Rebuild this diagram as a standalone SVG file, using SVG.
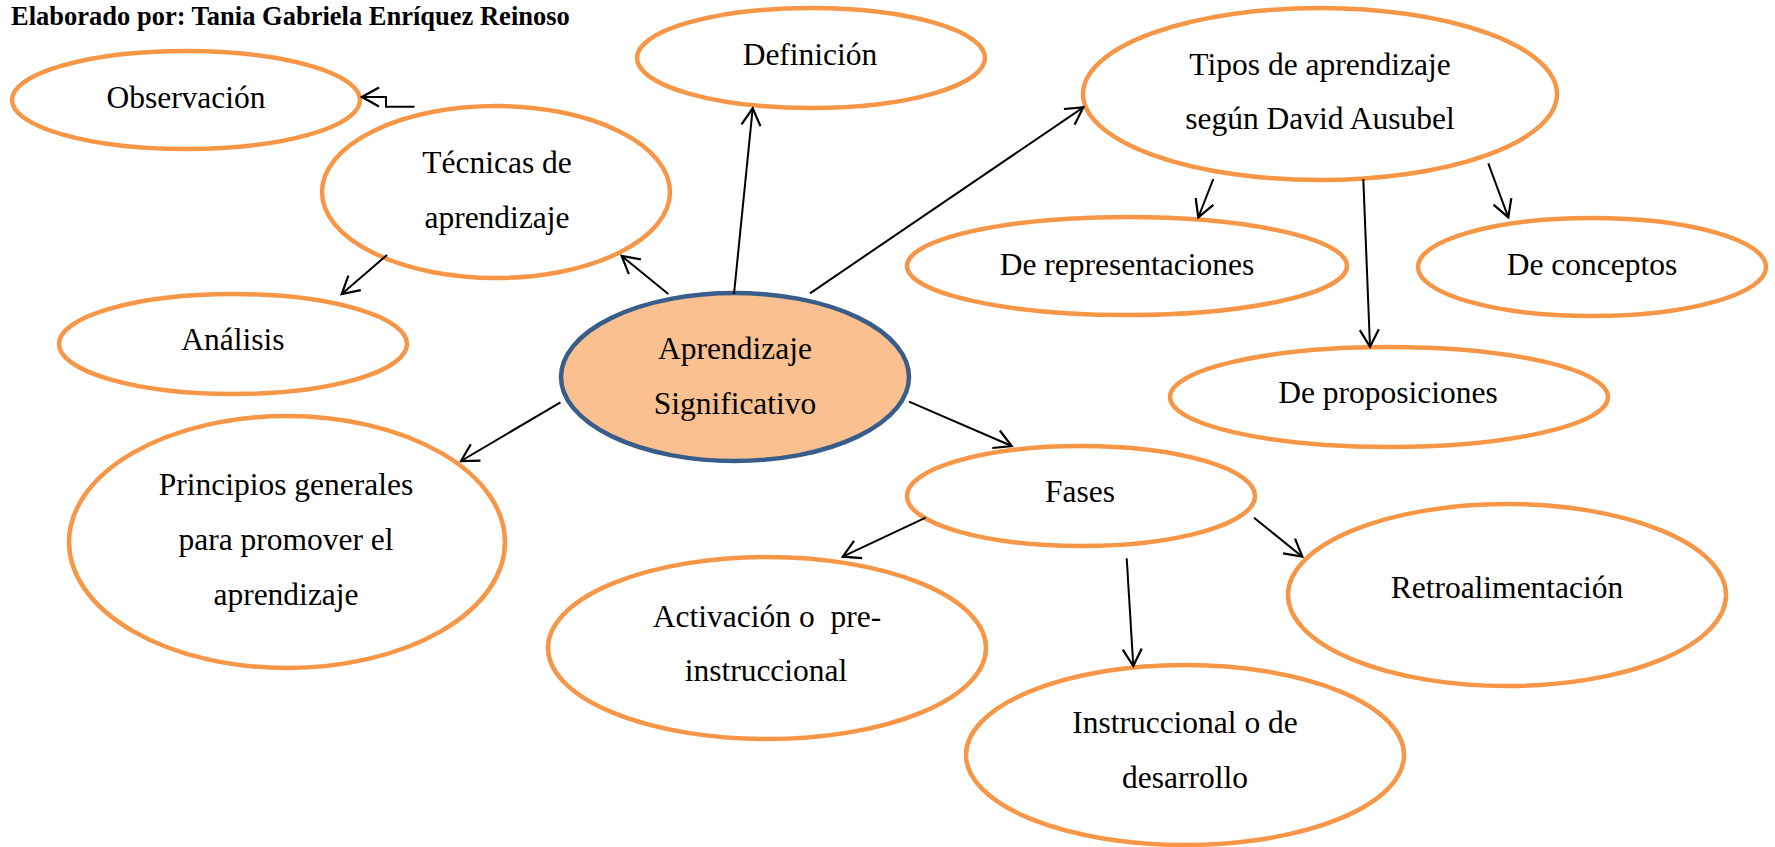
<svg xmlns="http://www.w3.org/2000/svg" width="1775" height="847" viewBox="0 0 1775 847">
<defs>
<style>
.n{fill:#FFFFFF;stroke:#F79646;stroke-width:4.5}
.c{fill:#FAC090;stroke:#385D8A;stroke-width:4.5}
.t{font-family:"Liberation Serif","Times New Roman",serif;font-size:31.5px;fill:#000;text-anchor:middle}
.h{font-family:"Liberation Serif","Times New Roman",serif;font-size:26.5px;font-weight:bold;fill:#000}
.e{fill:none;stroke:#000;stroke-width:2}
</style>
<marker id="a" markerUnits="userSpaceOnUse" viewBox="-20 -11 22 22" refX="0" refY="0" markerWidth="22" markerHeight="22" orient="auto">
<path d="M-17,-9.5 L0,0 L-17,9.5" fill="none" stroke="#000" stroke-width="2.2"/>
</marker>
</defs>
<rect width="1775" height="847" fill="#FFFFFF"/>
<text class="h" x="11" y="25">Elaborado por: Tania Gabriela Enríquez Reinoso</text>

<g id="observacion"><ellipse class="n" cx="186" cy="100" rx="174" ry="49"/><text class="t" x="186" y="108">Observación</text></g>
<g id="tecnicas"><ellipse class="n" cx="496" cy="192" rx="174" ry="86"/><text class="t" x="497" y="173">Técnicas de</text><text class="t" x="497" y="228">aprendizaje</text></g>
<g id="definicion"><ellipse class="n" cx="811" cy="58" rx="174" ry="50"/><text class="t" x="810" y="65">Definición</text></g>
<g id="tipos"><ellipse class="n" cx="1320" cy="94" rx="237" ry="86"/><text class="t" x="1320" y="75">Tipos de aprendizaje</text><text class="t" x="1320" y="129">según David Ausubel</text></g>
<g id="representaciones"><ellipse class="n" cx="1127" cy="266" rx="220" ry="49"/><text class="t" x="1127" y="275">De representaciones</text></g>
<g id="conceptos"><ellipse class="n" cx="1592" cy="267" rx="174" ry="49"/><text class="t" x="1592" y="275">De conceptos</text></g>
<g id="proposiciones"><ellipse class="n" cx="1389" cy="397" rx="219" ry="50"/><text class="t" x="1388" y="403">De proposiciones</text></g>
<g id="analisis"><ellipse class="n" cx="233" cy="344" rx="174" ry="50"/><text class="t" x="233" y="350">Análisis</text></g>
<g id="principios"><ellipse class="n" cx="287" cy="542" rx="218" ry="126"/><text class="t" x="286" y="495">Principios generales</text><text class="t" x="286" y="550">para promover el</text><text class="t" x="286" y="605">aprendizaje</text></g>
<g id="aprendizaje"><ellipse class="c" cx="735" cy="377" rx="174" ry="84"/><text class="t" x="735" y="359">Aprendizaje</text><text class="t" x="735" y="414">Significativo</text></g>
<g id="fases"><ellipse class="n" cx="1081" cy="496" rx="174" ry="50"/><text class="t" x="1080" y="502">Fases</text></g>
<g id="activacion"><ellipse class="n" cx="767" cy="648" rx="219" ry="91"/><text class="t" x="767" y="627" xml:space="preserve">Activación o  pre-</text><text class="t" x="766" y="681">instruccional</text></g>
<g id="retroalimentacion"><ellipse class="n" cx="1507" cy="595" rx="219" ry="91"/><text class="t" x="1507" y="598">Retroalimentación</text></g>
<g id="instruccional"><ellipse class="n" cx="1185" cy="755" rx="219" ry="90"/><text class="t" x="1185" y="733">Instruccional o de</text><text class="t" x="1185" y="788">desarrollo</text></g>

<g id="connectors">
<path class="e" marker-end="url(#a)" d="M668.3,294 L621.7,256"/>
<path class="e" marker-end="url(#a)" d="M734,294 L752.7,108.3"/>
<path class="e" marker-end="url(#a)" d="M810,293.3 L1083.3,107.3"/>
<path class="e" marker-end="url(#a)" d="M387,255 L341.7,294"/>
<path class="e" marker-end="url(#a)" d="M414.5,106.7 L386,106.7 L386,97 L362,97"/>
<path class="e" marker-end="url(#a)" d="M560.5,402.3 L461,461"/>
<path class="e" marker-end="url(#a)" d="M909,401.7 L1011.7,446"/>
<path class="e" marker-end="url(#a)" d="M925.7,517.7 L842.7,556.7"/>
<path class="e" marker-end="url(#a)" d="M1126.7,558.3 L1133.3,666"/>
<path class="e" marker-end="url(#a)" d="M1254,517.7 L1302.3,556.7"/>
<path class="e" marker-end="url(#a)" d="M1213.3,179 L1198.3,217.3"/>
<path class="e" marker-end="url(#a)" d="M1363.3,179 L1370,346.7"/>
<path class="e" marker-end="url(#a)" d="M1488.3,163.3 L1508.3,217.3"/>
</g>
</svg>
